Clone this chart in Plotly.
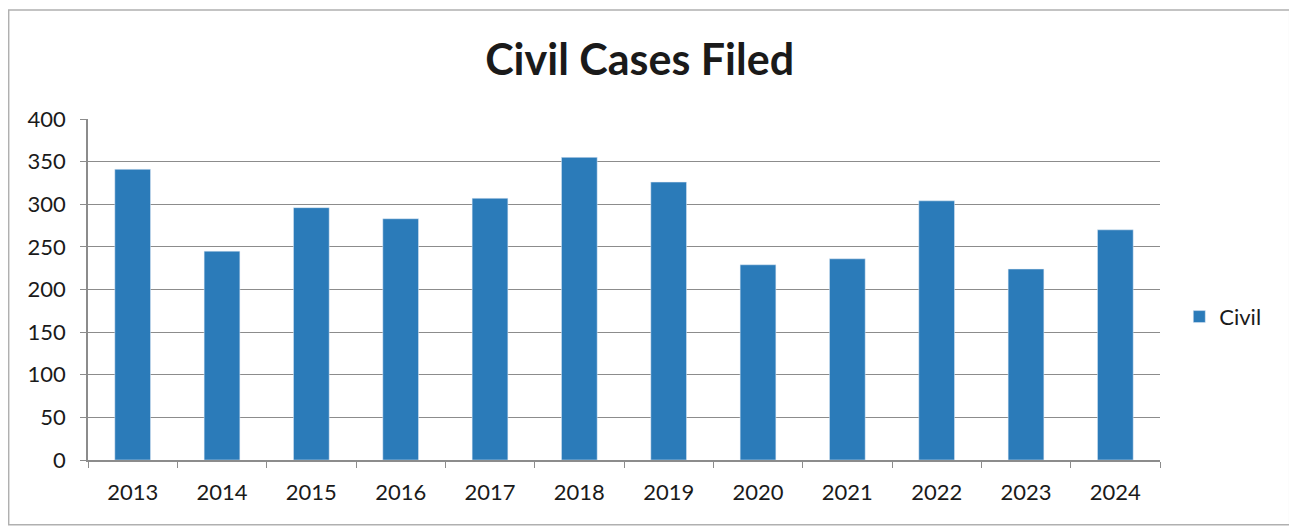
import plotly.graph_objects as go

years = ["2013", "2014", "2015", "2016", "2017", "2018",
         "2019", "2020", "2021", "2022", "2023", "2024"]
civil = [341, 245, 296, 283, 307, 355, 326, 229, 236, 304, 224, 270]

bar_color = "#2B7BB9"
grid_color = "#8C8C8C"

fig = go.Figure(
    data=[go.Bar(x=years, y=civil, name="Civil", marker_color=bar_color,
                 width=0.4, showlegend=True)]
)

# page body has an 8px margin, so the figure is 8px smaller than the window
fig.update_layout(
    width=1289,
    height=523,
    margin=dict(l=80, r=137, t=111, b=71),
    paper_bgcolor="white",
    plot_bgcolor="white",
    font=dict(family="Lato, 'Open Sans', sans-serif", size=22, color="#1a1a1a"),
    title=dict(text="<b>Civil Cases Filed</b>", x=0.49, xanchor="center",
               y=0.9, yanchor="middle", font=dict(size=43, color="#1a1a1a")),
    legend=dict(x=1.018, y=0.42, xanchor="left", yanchor="middle",
                font=dict(size=22), itemwidth=30),
    shapes=[dict(type="rect", xref="paper", yref="paper",
                 x0=-0.074, x1=1.121, y0=-0.19, y1=1.32,
                 line=dict(color="#B0B0B0", width=1.5))],
)

fig.update_xaxes(
    type="category",
    showline=True, linecolor=grid_color, linewidth=1.5,
    ticks="outside", tickson="boundaries", ticklen=6, tickcolor=grid_color,
    ticklabelstandoff=12,
    showgrid=False,
)
fig.update_yaxes(
    range=[0, 400], dtick=50,
    showline=True, linecolor=grid_color, linewidth=1.5,
    ticks="outside", ticklen=6, tickcolor=grid_color,
    ticklabelstandoff=10,
    gridcolor=grid_color, gridwidth=1.2,
    zeroline=False,
)

fig.write_html("out.html")
